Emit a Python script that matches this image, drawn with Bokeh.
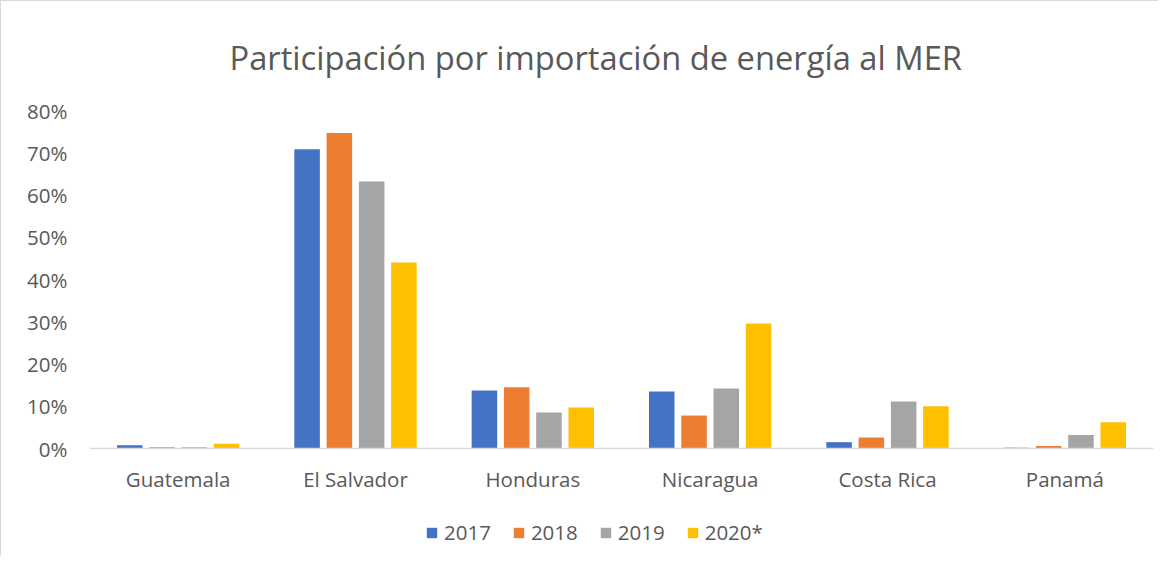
from bokeh.plotting import figure
from bokeh.models import (ColumnDataSource, FactorRange, Range1d, FixedTicker,
                          PrintfTickFormatter, Legend, LegendItem, Span)
from bokeh.core.properties import value
from bokeh.transform import dodge
from bokeh.embed import file_html
from bokeh.resources import INLINE

categories = ["Guatemala", "El Salvador", "Honduras", "Nicaragua", "Costa Rica", "Panamá"]
series = ["2017", "2018", "2019", "2020*"]
v2017 = [0.8, 70.8, 13.7, 13.5, 1.5, 0.2]
v2018 = [0.3, 74.7, 14.5, 7.8, 2.6, 0.6]
v2019 = [0.3, 63.2, 8.5, 14.2, 11.1, 3.2]
v2020 = [1.1, 44.0, 9.7, 29.6, 10.0, 6.2]
y_ticks = [0, 10, 20, 30, 40, 50, 60, 70, 80]

colors = ["#4472C4", "#ED7D31", "#A5A5A5", "#FFC000"]
FONT = "Open Sans"
TXT = "#595959"

source = ColumnDataSource(dict(cat=categories, v2017=v2017, v2018=v2018,
                               v2019=v2019, v2020=v2020,
                               label_y=[-7.1] * len(categories)))

p = figure(x_range=FactorRange(*categories), y_range=Range1d(-24.85, 80),
           width=1158, height=556, output_backend="svg", toolbar_location=None,
           title="Participación por importación de energía al MER",
           min_border_left=88, min_border_right=6, min_border_top=109,
           min_border_bottom=4)
p.title.align = "left"
p.title.offset = 140
p.title.standoff = 62
p.title.text_font = FONT
p.title.text_font_size = "32.7px"
p.title.text_font_style = "normal"
p.title.text_color = TXT

offsets = [-0.273, -0.091, 0.091, 0.273]
fields = ["v2017", "v2018", "v2019", "v2020"]
items = []
for f, off, c, s in zip(fields, offsets, colors, series):
    r = p.vbar(x=dodge("cat", off, range=p.x_range), top=f, bottom=0, width=0.144,
               source=source, fill_color=c, line_color=None)
    items.append(LegendItem(label=s, renderers=[r]))

p.add_layout(Span(location=0, dimension="width", line_color="#D9D9D9", line_width=1.5))

p.text(x="cat", y="label_y", text="cat", source=source, text_align="center",
       text_baseline="middle", text_font=value(FONT), text_font_size="20.5px",
       text_color=TXT)

legend = Legend(items=items, orientation="horizontal", location=(336, 7),
                label_text_font=FONT, label_text_font_size="20.5px",
                label_text_color=TXT, glyph_width=13, glyph_height=13,
                spacing=21, label_standoff=6, border_line_color=None,
                background_fill_alpha=0, padding=4, margin=0)
p.add_layout(legend, "center")

p.xgrid.grid_line_color = None
p.ygrid.grid_line_color = None
p.outline_line_color = None
p.xaxis.visible = False

p.yaxis.ticker = FixedTicker(ticks=y_ticks)
p.yaxis.formatter = PrintfTickFormatter(format="%d%%")
p.yaxis.axis_line_color = None
p.yaxis.major_tick_line_color = None
p.yaxis.minor_tick_line_color = None
p.yaxis.major_tick_out = 0
p.yaxis.major_tick_in = 0
p.yaxis.minor_tick_out = 0
p.yaxis.major_label_text_font = FONT
p.yaxis.major_label_text_font_size = "20.5px"
p.yaxis.major_label_text_color = TXT
p.yaxis.major_label_standoff = 22

p.styles = {"border-left": "1px solid #D9D9D9", "border-top": "1px solid #D9D9D9"}

open("out.html", "w").write(file_html(p, INLINE))
